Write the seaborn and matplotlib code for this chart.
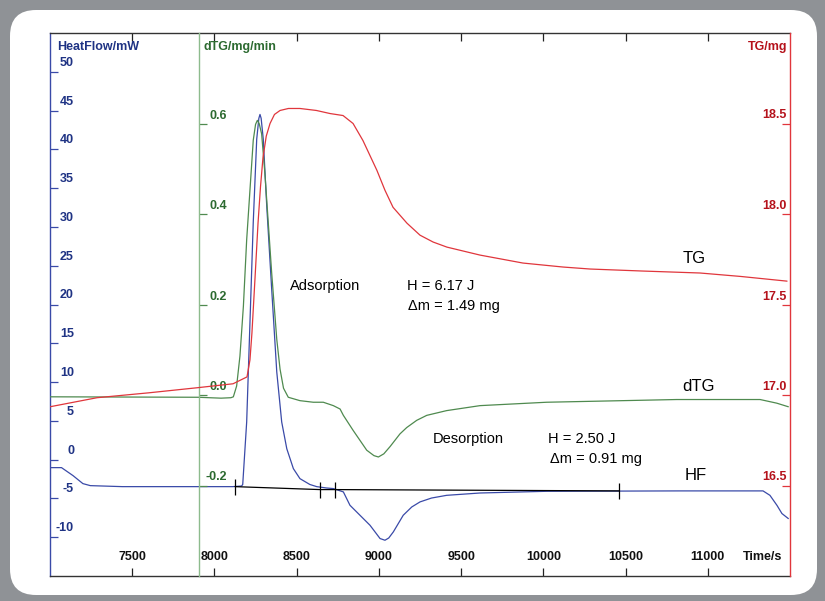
import seaborn as sns
import matplotlib.pyplot as plt
import matplotlib.transforms as mtransforms
from matplotlib.patches import FancyBboxPatch

# --- data (time in s) ---
hf_time = [7000, 7070, 7140, 7200, 7245, 7440, 8110, 8165, 8172, 8196, 8216, 8236, 8257,
           8270, 8277, 8284, 8297, 8318, 8348, 8379, 8409, 8440, 8480, 8520, 8580, 8622,
           8680, 8723, 8784, 8824, 8885, 8946, 9007, 9037, 9060, 9088, 9148, 9200, 9250,
           9320, 9412, 9615, 10020, 10831, 11336, 11378, 11421, 11451, 11490]
hf_values = [-1.03, -1.03, -2.06, -3.09, -3.35, -3.48, -3.48, -3.40, -3.2, 4.85, 17.7, 30.6, 41.3,
             44.0, 44.5, 44.0, 41.3, 32.7, 22.0, 11.3, 4.85, 1.4, -1.16, -2.45, -3.2, -3.48,
             -3.65, -3.73, -4.16, -5.88, -7.17, -8.46, -10.17, -10.39, -10.1, -9.31, -7.17, -6.1, -5.45,
             -4.95, -4.6, -4.3, -4.08, -4.03, -4.03, -4.6, -5.9, -6.95, -7.6]

dtg_time = [7000, 7900, 8040, 8100, 8115, 8135, 8155, 8176, 8196, 8216, 8236, 8250, 8261,
            8272, 8287, 8307, 8328, 8348, 8379, 8399, 8420, 8449, 8520, 8601, 8662, 8723,
            8764, 8784, 8843, 8926, 8970, 8997, 9030, 9068, 9128, 9169, 9230, 9291, 9412,
            9615, 10020, 10284, 10811, 11318, 11419, 11490]
dtg_values = [-0.004, -0.005, -0.007, -0.006, -0.004, 0.020, 0.086, 0.196, 0.343, 0.453, 0.563, 0.598, 0.607,
              0.600, 0.577, 0.489, 0.377, 0.270, 0.123, 0.057, 0.015, -0.005, -0.0125, -0.016, -0.016, -0.0235,
              -0.031, -0.045, -0.078, -0.122, -0.134, -0.137, -0.130, -0.114, -0.086, -0.072, -0.056, -0.045, -0.0345,
              -0.0235, -0.016, -0.014, -0.010, -0.010, -0.018, -0.026]

tg_time = [7000, 7286, 7600, 7894, 8113, 8198, 8216, 8228, 8247, 8265, 8280, 8295, 8315,
           8338, 8365, 8399, 8450, 8520, 8620, 8703, 8782, 8843, 8903, 8988, 9037, 9086,
           9171, 9250, 9330, 9414, 9615, 9876, 10120, 10284, 10600, 10953, 11200, 11482]
tg_values = [16.935, 16.985, 17.012, 17.04, 17.062, 17.10, 17.194, 17.343, 17.65, 17.949, 18.15, 18.31, 18.43,
             18.50, 18.55, 18.572, 18.583, 18.583, 18.572, 18.555, 18.544, 18.50, 18.406, 18.241, 18.131, 18.037,
             17.949, 17.883, 17.845, 17.817, 17.773, 17.729, 17.707, 17.696, 17.685, 17.674, 17.655, 17.629]

# integration baseline on the heat flow curve
base_time = [8125, 8642, 8733, 10460]
base_hf = [-3.48, -3.86, -3.86, -4.03]

time_ticks = [7500, 8000, 8500, 9000, 9500, 10000, 10500, 11000]
hf_ticks = [50, 45, 40, 35, 30, 25, 20, 15, 10, 5, 0, -5, -10]
dtg_ticks = [0.6, 0.4, 0.2, 0.0, -0.2]
tg_ticks = [18.5, 18.0, 17.5, 17.0, 16.5]

blue = '#3a4aa8'
blue_txt = '#1f3384'
green = '#4f8a4f'
green_spine = '#8dbb8d'
green_txt = '#2c6a30'
red = '#e0363c'
red_txt = '#b5121b'
gray_bg = '#8f9296'

sns.set_style('white')
plt.rcParams['font.family'] = ['Liberation Sans', 'DejaVu Sans']

fig = plt.figure(figsize=(8.25, 6.01), dpi=100, facecolor=gray_bg)
# white rounded panel behind the chart (pixel coords)
panel = FancyBboxPatch((10, 6), 807, 585, boxstyle='round,pad=0,rounding_size=26',
                       transform=mtransforms.IdentityTransform(), facecolor='white',
                       edgecolor='none', zorder=-5)
fig.patches.append(panel)

ax = fig.add_axes([50 / 825, 25 / 601, 740 / 825, 543 / 601])
ax2 = ax.twinx()
ax3 = ax.twinx()

# curves
sns.lineplot(x=hf_time, y=hf_values, ax=ax, color=blue, lw=0.9, estimator=None)
ax.plot(base_time, base_hf, color='black', lw=0.9, marker='|', markersize=12, mew=0.9)
sns.lineplot(x=dtg_time, y=dtg_values, ax=ax2, color=green, lw=0.9, estimator=None)
sns.lineplot(x=tg_time, y=tg_values, ax=ax3, color=red, lw=0.9, estimator=None)

ax.set_xlim(7000, 11500)
ax.set_ylim(-15, 55)
ax2.set_ylim(-0.4, 0.8)
ax3.set_ylim(16.0, 19.0)
for a in (ax, ax2, ax3):
    a.set_xlabel('')
    a.set_ylabel('')

# spines
for s in ax.spines.values():
    s.set_visible(False)
ax.spines['left'].set_visible(True)
ax.spines['left'].set_color(blue)
ax.spines['top'].set_visible(True)
ax.spines['bottom'].set_visible(True)
ax.spines['top'].set_color('#333333')
ax.spines['bottom'].set_color('#333333')
for s in ax2.spines.values():
    s.set_visible(False)
ax2.spines['left'].set_visible(True)
ax2.spines['left'].set_position(('axes', 149 / 740))
ax2.spines['left'].set_color(green_spine)
for s in ax3.spines.values():
    s.set_visible(False)
ax3.spines['right'].set_visible(True)
ax3.spines['right'].set_color(red)
for s in list(ax.spines.values()) + list(ax2.spines.values()) + list(ax3.spines.values()):
    s.set_linewidth(1.0)

# ticks (inward, labels drawn separately inside the frame)
ax.set_xticks(time_ticks)
ax.tick_params(axis='x', direction='in', top=True, bottom=True, length=5.5, width=0.9,
               color='#222222', labelbottom=False, labeltop=False)
ax.set_yticks(hf_ticks)
ax.tick_params(axis='y', direction='in', left=True, right=False, length=5.5, width=0.9,
               color=blue, labelleft=False, labelright=False)
ax2.yaxis.set_ticks_position('left')
ax2.set_yticks(dtg_ticks)
ax2.tick_params(axis='y', direction='in', length=5.5, width=0.9, color=green,
                labelleft=False, labelright=False)
ax3.set_yticks(tg_ticks)
ax3.tick_params(axis='y', direction='in', length=5.5, width=0.9, color=red,
                labelleft=False, labelright=False)

tick_font = dict(fontsize=9, fontweight='bold', textcoords='offset pixels', va='center')
for t in time_ticks:
    ax.annotate(str(t), xy=(t, 0), xycoords=ax.get_xaxis_transform(), xytext=(0, 19),
                ha='center', color='#111111', **tick_font)
for v in hf_ticks:
    ax.annotate(f'{v:g}', xy=(0, v), xycoords=ax.get_yaxis_transform(), xytext=(24, 9),
                ha='right', color=blue_txt, **tick_font)
for v in dtg_ticks:
    ax2.annotate(f'{v:.1f}', xy=(149 / 740, v), xycoords=ax2.get_yaxis_transform(), xytext=(28, 8),
                 ha='right', color=green_txt, **tick_font)
for v in tg_ticks:
    ax3.annotate(f'{v:.1f}', xy=(1, v), xycoords=ax3.get_yaxis_transform(), xytext=(-3, 8),
                 ha='right', color=red_txt, **tick_font)

# axis titles
ax.text(7 / 740, 0.974, 'HeatFlow/mW', transform=ax.transAxes, fontsize=9, fontweight='bold',
        color=blue_txt, va='center', ha='left')
ax.text(154 / 740, 0.974, 'dTG/mg/min', transform=ax.transAxes, fontsize=9, fontweight='bold',
        color=green_txt, va='center', ha='left')
ax.text(737 / 740, 0.974, 'TG/mg', transform=ax.transAxes, fontsize=9, fontweight='bold',
        color=red_txt, va='center', ha='right')
ax.text(732 / 740, 0.035, 'Time/s', transform=ax.transAxes, fontsize=9, fontweight='bold',
        color='#111111', va='center', ha='right')

# annotations
note = dict(fontsize=10.5, color='black', va='center', ha='left')
ax.text(8459, 22.4, 'Adsorption', **note)
ax.text(9171, 22.4, 'H = 6.17 J', **note)
ax.text(9177, 19.8, 'Δm = 1.49 mg', **note)
ax.text(9329, 2.7, 'Desorption', **note)
ax.text(10028, 2.7, 'H = 2.50 J', **note)
ax.text(10040, 0.13, 'Δm = 0.91 mg', **note)
curve_lab = dict(fontsize=12, color='black', va='center', ha='left')
ax.text(10849, 25.9, 'TG', **curve_lab)
ax.text(10843, 9.4, 'dTG', **curve_lab)
ax.text(10861, -2.06, 'HF', **curve_lab)

plt.savefig('out.png', dpi=100, facecolor=gray_bg)
